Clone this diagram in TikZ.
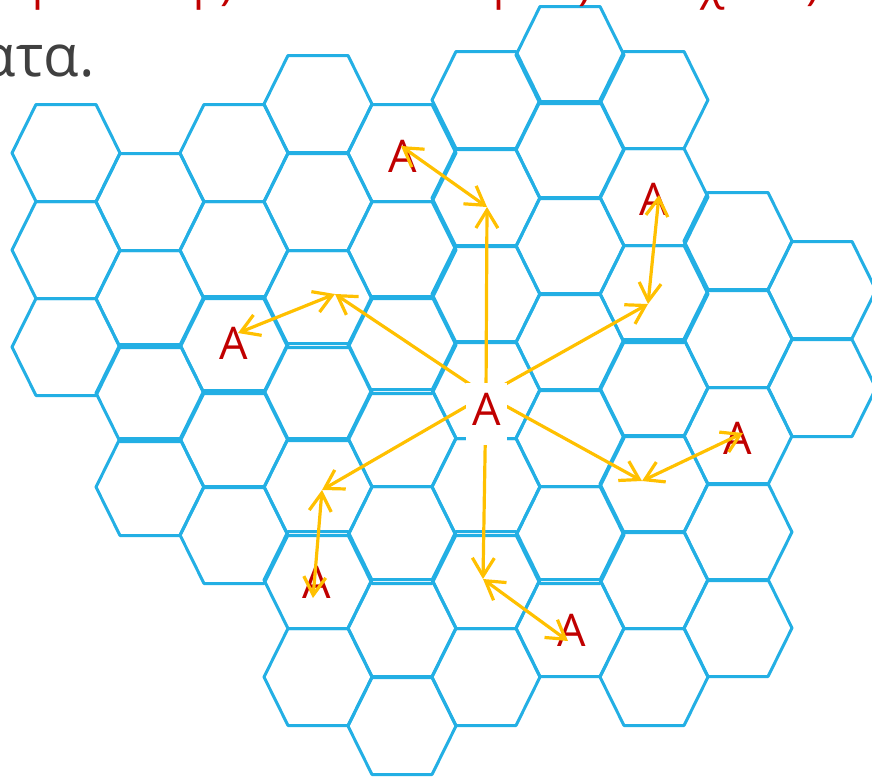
\documentclass[tikz,border=0pt]{standalone}
\usepackage{fontspec}
\setmainfont{Open Sans}
\usetikzlibrary{arrows.meta}
\definecolor{hexblue}{RGB}{35,175,228}
\definecolor{reusegold}{RGB}{255,192,0}
\definecolor{cellred}{RGB}{192,0,0}
\definecolor{slidegray}{RGB}{64,64,64}
\begin{document}
\begin{tikzpicture}[x=0.5pt, y=-0.5pt,
  >={Straight Barb[length=9pt,width=11pt]},
  hex/.style={draw=hexblue, line width=1.5pt, line join=round},
  cellA/.style={text=cellred, font=\fontsize{22.5pt}{27pt}\selectfont, inner sep=0pt},
  spoke/.style={->, draw=reusegold, line width=1.6pt, line cap=round},
  twoway/.style={<->, draw=reusegold, line width=1.6pt, line cap=round}]
\useasboundingbox (0,0) rectangle (872,778);
\clip (0,0) rectangle (872,778);

% cells of the cluster, column by column
\foreach \cx/\ys in {66/{153,250,347}, 150/{202,299,393,487}, 234/{153,250,345,439,535},
    318/{104,202,299,392,487,580,677}, 402/{153,250,345,438,535,628,726},
    486/{100,198,294,390,487,580,677}, 570/{55,150,246,342,438,535,628},
    654/{100,197,294,388,484,580,677}, 738/{241,339,436,532,628}, 822/{290,388}}
  \foreach \cy in \ys
    \draw[hex] (\cx-54,\cy) -- (\cx-30,\cy-48.5) -- (\cx+30,\cy-48.5) -- (\cx+54,\cy)
      -- (\cx+30,\cy+48.5) -- (\cx-30,\cy+48.5) -- cycle;

% slide text cut by the frame
\node[anchor=base east, text=slidegray, font=\fontsize{29pt}{34pt}\selectfont, inner sep=0pt] (tail) at (95,76) {ατα.};
\node[cellA, anchor=base west] (r1) at (32,-1) {ρ};
\node[cellA, anchor=base west] (r2) at (193,-1) {ρ)};
\node[cellA, anchor=base west] (r3) at (493,-1) {ρ};
\node[cellA, anchor=base west] (r4) at (578,-1) {)};
\node[cellA, anchor=base west] (r5) at (700,-1) {χ};
\node[cellA, anchor=base west] (r6) at (806,-1) {)};

% co-channel cells
\node[cellA] (a1) at (403,156) {A};
\node[cellA] (a2) at (654,199) {A};
\node[cellA] (a3) at (738,438) {A};
\node[cellA] (a4) at (572,630) {A};
\node[cellA] (a5) at (317,582) {A};
\node[cellA] (a6) at (234,343) {A};

\coordinate (o) at (486,395);
\coordinate (p1) at (487,207);
\coordinate (p2) at (648,304);
\coordinate (p3) at (642,481);
\coordinate (p4) at (483,579);
\coordinate (p5) at (322,490);
\coordinate (p6) at (335,294);

\draw[spoke] (o) -- (p1);
\draw[spoke] (o) -- (p2);
\draw[spoke] (o) -- (p3);
\draw[spoke] (o) -- (p4);
\draw[spoke] (o) -- (p5);
\draw[spoke] (o) -- (p6);
\draw[twoway] (p1) -- ([shift={(-2,-10)}]a1.center);
\draw[twoway] (p2) -- ([shift={(5,-4)}]a2.center);
\draw[twoway] (p3) -- ([shift={(5,-5)}]a3.center);
\draw[twoway] (p4) -- ([shift={(-4,11)}]a4.center);
\draw[twoway] (p5) -- ([shift={(-4,16)}]a5.center);
\draw[twoway] (p6) -- ([shift={(4,-10)}]a6.center);

% centre cell on top
\node[cellA, fill=white, inner xsep=3pt, inner ysep=5pt, text height=16pt, text depth=5pt, anchor=base] (c) at (486.5,425) {A};
\end{tikzpicture}
\end{document}
